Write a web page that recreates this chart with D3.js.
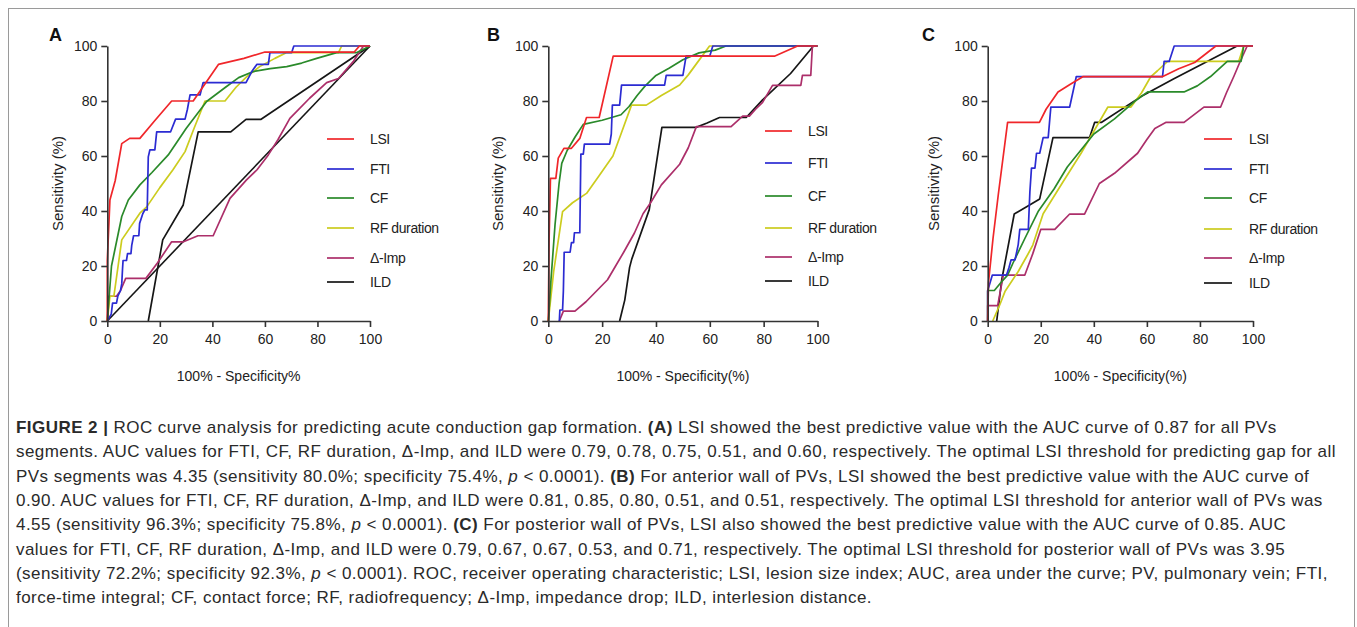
<!DOCTYPE html>
<html><head><meta charset="utf-8">
<script src="https://cdn.jsdelivr.net/npm/d3@7"></script>
<style>body{margin:0;background:#fff}svg{display:block}</style>
</head><body>
<svg id="fig" width="1357" height="627"></svg>
<script>
// ---------- DATA ----------
const categories = ["LSI", "FTI", "CF", "RF duration", "\u0394-Imp", "ILD"];
const xTicks = [0, 20, 40, 60, 80, 100];
const yTicks = [0, 20, 40, 60, 80, 100];
const panelLetters = ["A", "B", "C"];
const xTitles = ["100% - Specificity%", "100% - Specificity(%)", "100% - Specificity(%)"];
const yTitle = "Sensitivity (%)";

// Panel A (all PVs)
const A_LSI = [[0,0],[0,22],[1,44],[3,51],[5.5,64.5],[8.5,66.4],[12.4,66.4],[18.2,73],[24.5,80],[32.7,80],[42.3,93.3],[52,95.5],[60,97.8],[94,97.8],[96,100],[100,100]];
const A_FTI = [[0,0],[1.5,2.5],[2,6.5],[3.5,6.5],[4,9],[5,11],[5.5,13.5],[5.8,19],[6,22],[7.3,22],[7.7,24.5],[9,24.5],[9.3,27.5],[10,31],[12,31],[12.3,35.5],[13.5,39],[14.3,40.4],[15.2,40.4],[15.6,59.7],[16.2,62.2],[18.1,62.2],[18.8,68.8],[24.1,68.8],[26,73.4],[29.6,73.4],[30.5,77],[31.5,82.2],[35.3,82.2],[36.5,86.7],[52.8,86.7],[55,90.7],[56.9,93.3],[61.3,93.3],[61.9,97.6],[70.2,97.6],[71,100],[100,100]];
const A_CF = [[0,0],[0.8,10],[1.6,20],[5.5,38],[8,44],[12.4,49.5],[17,54],[23.2,60.4],[30,70],[37.8,79.8],[45,85],[50,88.5],[55.6,90.7],[62,91.8],[68.3,92.5],[74,93.8],[79.7,95.5],[87.3,97.6],[95,97.6],[100,100]];
const A_RF = [[0,0],[1,9],[2.5,9],[5.5,29.5],[12.4,39.2],[15,41.5],[20,48.5],[25,55],[29.6,61.6],[33,70],[37.2,80],[44.8,80],[49,85],[53,88.8],[58,92.5],[63.8,95.5],[68.3,97.6],[88,97.6],[89.2,100],[100,100]];
const A_Imp = [[0,0],[0.5,9],[3.5,9],[5,11],[7,15.5],[14.7,15.5],[19,21],[24.5,28.8],[29,28.8],[34.5,31],[40.3,31],[46.7,44.6],[53,51.3],[57,55],[61.3,60.4],[65,66],[69.5,73.7],[77,81],[83.5,86.7],[88,88.2],[93.6,94.3],[97.5,100],[100,100]];
const A_ILD = [[15.6,0],[21.1,29.5],[28.9,42.2],[34.6,68.8],[47,68.8],[52.8,73.3],[58.4,73.3],[100,100]];
const A_reference = [[0,0],[100,100]];

// Panel B (anterior wall)
const B_LSI = [[0,0],[0.3,30],[0.8,51.9],[2.8,51.9],[3.7,59.2],[5.8,62.8],[8.6,62.8],[11.7,66.4],[14.2,74],[18.9,74],[24.1,96.3],[84,96.3],[92.6,100],[100,100]];
const B_FTI = [[4.1,0],[4.3,4],[5.3,4],[5.6,11],[5.9,25],[8.1,25],[8.6,28.5],[9.4,28.5],[9.7,32.1],[11.7,32.1],[12.1,60.7],[13,60.7],[13.4,64.3],[22.8,64.3],[23.4,68],[23.8,78.5],[26.5,78.5],[27.2,85.8],[43.2,85.8],[43.8,89.3],[50,89.3],[51.2,96.4],[60,96.4],[61.1,100],[100,100]];
const B_CF = [[0,0],[1,15],[2.5,35],[4,50],[5,57.3],[7,62],[10,67],[13,71.5],[20,73],[27,75],[30,78],[33,82],[36,85.5],[40,89.3],[45,92],[50,95],[56,97.5],[62,98.5],[66,100],[100,100]];
const B_RF = [[0,0],[2,18],[5.3,39.8],[9,43],[14.2,46.4],[19,53],[24,60],[27,68],[30.9,78.5],[36.4,78.5],[42,82],[48.8,85.8],[52,89.5],[55,93.5],[59.9,100],[100,100]];
const B_Imp = [[4.1,0],[5.6,3.6],[9.9,3.6],[14,7],[18,11],[22,15],[25,20],[28,25],[32,32],[35.2,39],[38,43],[42,49.5],[48.8,57],[52,63],[55,70.7],[67.9,70.7],[72.2,74.5],[74.7,74.5],[77,77],[79.6,79.5],[83.3,85.7],[93.8,85.7],[94.4,89.3],[97.5,89.3],[98.1,100],[100,100]];
const B_ILD = [[26.5,0],[28.4,7.6],[30.2,19.5],[31,22.5],[37.5,40.5],[42.2,70.4],[54.9,70.4],[59,72],[63.6,74],[73.5,74],[79.6,80.4],[90,90],[98.5,100],[100,100]];

// Panel C (posterior wall)
const C_LSI = [[0,0],[0.3,14],[2,30],[4,46],[7.5,72.2],[19.5,72.2],[22,77],[26.5,83.3],[31,86],[36,88.9],[66,88.9],[72,91.7],[78,94],[86,100],[100,100]];
const C_FTI = [[0,0],[0,11],[1.75,16.7],[7.1,16.7],[8,19.4],[8.8,22.2],[10.3,22.2],[11.5,27.8],[12.1,33.3],[15.3,33.3],[15.9,47],[16.5,55.6],[17.8,55.6],[18.4,61],[19.6,61],[20.9,66.7],[22.8,66.7],[23.8,77.8],[30.9,77.8],[33.4,88.9],[65.9,88.9],[66.5,94.4],[68.4,94.4],[70.3,100],[100,100]];
const C_CF = [[0,0],[0,11.1],[2.5,11.1],[5,14],[7.5,16.7],[9.5,21],[14,30],[19,39.8],[25,48],[30,56],[35,62],[40,68],[47.8,73.5],[55.3,79.8],[60.3,83.3],[74,83.3],[79,85.5],[84,88.9],[90.3,94.4],[95.5,94.4],[96.5,100],[100,100]];
const C_RF = [[1.9,0],[4.6,6],[6.5,10.7],[11.5,18],[15,24],[17,27.6],[20.9,39],[28,50],[35.2,61],[40,69],[45.3,77.8],[54,77.8],[58,83],[61.5,88.9],[64,91],[67.8,94.4],[94.6,94.4],[96.5,100],[100,100]];
const C_Imp = [[0,0],[0,5.6],[3.75,5.6],[5.9,16.7],[14,16.7],[17,24.5],[20,33.3],[25.3,33.3],[30.9,38.9],[36.5,38.9],[42.1,50],[47.8,53.7],[56.5,61],[60,66],[63,70],[67.1,72.2],[74,72.2],[81.5,77.8],[87.8,77.8],[90,83],[92.8,89],[95,94],[97.8,100],[100,100]];
const C_ILD = [[3.4,0],[5.3,15],[10,38.9],[15,41.7],[19.6,44.4],[24.6,66.7],[38.4,66.7],[40.3,72.2],[42.8,72.2],[57.8,81.6],[70,88],[94,100],[100,100]];

// Caption: [text, style] segments per line (b = bold, i = italic)
const captionLines = [
  [["FIGURE 2 | ","b"],["ROC curve analysis for predicting acute conduction gap formation. ",""],["(A)","b"],[" LSI showed the best predictive value with the AUC curve of 0.87 for all PVs",""]],
  [["segments. AUC values for FTI, CF, RF duration, \u0394-Imp, and ILD were 0.79, 0.78, 0.75, 0.51, and 0.60, respectively. The optimal LSI threshold for predicting gap for all",""]],
  [["PVs segments was 4.35 (sensitivity 80.0%; specificity 75.4%, ",""],["p","i"],[" < 0.0001). ",""],["(B)","b"],[" For anterior wall of PVs, LSI showed the best predictive value with the AUC curve of",""]],
  [["0.90. AUC values for FTI, CF, RF duration, \u0394-Imp, and ILD were 0.81, 0.85, 0.80, 0.51, and 0.51, respectively. The optimal LSI threshold for anterior wall of PVs was",""]],
  [["4.55 (sensitivity 96.3%; specificity 75.8%, ",""],["p","i"],[" < 0.0001). ",""],["(C)","b"],[" For posterior wall of PVs, LSI also showed the best predictive value with the AUC curve of 0.85. AUC",""]],
  [["values for FTI, CF, RF duration, \u0394-Imp, and ILD were 0.79, 0.67, 0.67, 0.53, and 0.71, respectively. The optimal LSI threshold for posterior wall of PVs was 3.95",""]],
  [["(sensitivity 72.2%; specificity 92.3%, ",""],["p","i"],[" < 0.0001). ROC, receiver operating characteristic; LSI, lesion size index; AUC, area under the curve; PV, pulmonary vein; FTI,",""]],
  [["force-time integral; CF, contact force; RF, radiofrequency; \u0394-Imp, impedance drop; ILD, interlesion distance.",""]]
];

// ---------- STYLE / LAYOUT ----------
const colors = ["#f0262a", "#2b2bd2", "#2a8a2a", "#cccc1e", "#ac2f6a", "#161616"];
const font = "'Liberation Sans', Arial, Helvetica, sans-serif";
const layout = [
  {x0:107.3, x1:370, top:46, bottom:321, letterX:49, yTitleX:57.5, legLine:[327,354], legTextX:370, legY:[139,169,198,228,258,282]},
  {x0:548.3, x1:817.5, top:46, bottom:321, letterX:487, yTitleX:497.5, legLine:[765,792], legTextX:808, legY:[131,163,196,228,257,281]},
  {x0:987.7, x1:1253, top:46, bottom:321, letterX:922, yTitleX:933, legLine:[1204,1232], legTextX:1249, legY:[139,169,198,229,258,283]}
];
const panelSeries = [
  [A_LSI, A_FTI, A_CF, A_RF, A_Imp, A_ILD],
  [B_LSI, B_FTI, B_CF, B_RF, B_Imp, B_ILD],
  [C_LSI, C_FTI, C_CF, C_RF, C_Imp, C_ILD]
];
const panelRefs = [A_reference, null, null];

const svg = d3.select("#fig");
// figure frame
svg.append("rect").attr("x", 8.5).attr("y", 8.5).attr("width", 1346).attr("height", 640)
  .attr("fill", "none").attr("stroke", "#9a9a9a").attr("stroke-width", 1);

layout.forEach((L, p) => {
  const x = d3.scaleLinear().domain([0, 100]).range([L.x0, L.x1]);
  const y = d3.scaleLinear().domain([0, 100]).range([L.bottom, L.top]);
  const g = svg.append("g");

  const line = d3.line().x(d => x(d[0])).y(d => y(d[1]));
  const drawOrder = [5, 4, 3, 2, 1, 0];
  if (panelRefs[p]) {
    g.append("path").attr("d", line(panelRefs[p])).attr("fill", "none")
      .attr("stroke", colors[5]).attr("stroke-width", 1.6);
  }
  drawOrder.forEach(i => {
    g.append("path").attr("d", line(panelSeries[p][i])).attr("fill", "none")
      .attr("stroke", colors[i]).attr("stroke-width", 1.7).attr("stroke-linejoin", "round");
  });

  const ax = g.append("g").attr("transform", `translate(0,${L.bottom})`)
    .call(d3.axisBottom(x).tickValues(xTicks).tickSize(6).tickPadding(7).tickSizeOuter(0));
  const ay = g.append("g").attr("transform", `translate(${L.x0},0)`)
    .call(d3.axisLeft(y).tickValues(yTicks).tickSize(6).tickPadding(4).tickSizeOuter(0));
  [ax, ay].forEach(a => {
    a.selectAll("path,line").attr("stroke", "#333").attr("stroke-width", 1.6);
    a.selectAll("text").attr("font-family", font).attr("font-size", 14).attr("fill", "#222");
  });

  g.append("text").attr("x", (L.x0 + L.x1) / 2).attr("y", 381).attr("text-anchor", "middle")
    .attr("font-family", font).attr("font-size", 14).attr("fill", "#222").text(xTitles[p]);
  g.append("text").attr("transform", `translate(${L.yTitleX},${(L.top + L.bottom) / 2}) rotate(-90)`)
    .attr("text-anchor", "middle").attr("dominant-baseline", "central")
    .attr("font-family", font).attr("font-size", 15).attr("fill", "#222").text(yTitle);
  g.append("text").attr("x", L.letterX).attr("y", 41).attr("font-family", font)
    .attr("font-weight", "bold").attr("font-size", 18).attr("fill", "#111").text(panelLetters[p]);

  categories.forEach((c, i) => {
    g.append("line").attr("x1", L.legLine[0]).attr("x2", L.legLine[1])
      .attr("y1", L.legY[i]).attr("y2", L.legY[i]).attr("stroke", colors[i]).attr("stroke-width", 1.7);
    g.append("text").attr("x", L.legTextX).attr("y", L.legY[i]).attr("dominant-baseline", "central")
      .attr("font-family", font).attr("font-size", 14).attr("letter-spacing", -0.4)
      .attr("fill", "#222").text(c);
  });
});

// caption
const cap = svg.append("g");
captionLines.forEach((segs, k) => {
  const t = cap.append("text").attr("x", 16).attr("y", 433 + k * 24.3)
    .attr("font-family", font).attr("font-size", 17).attr("letter-spacing", 0.45).attr("fill", "#2a2a2a");
  segs.forEach(([s, st]) => {
    const ts = t.append("tspan").text(s);
    if (st === "b") ts.attr("font-weight", "bold");
    if (st === "i") ts.attr("font-style", "italic");
  });
});
</script>
</body></html>
